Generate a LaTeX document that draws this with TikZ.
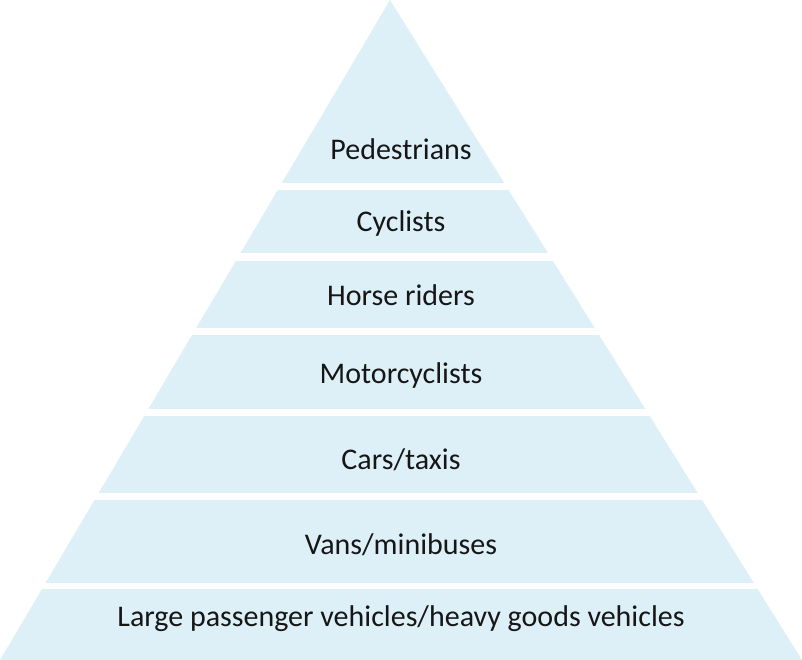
\documentclass[tikz,border=0pt]{standalone}
\usepackage{fontspec}
\setmainfont{Carlito}
\definecolor{bandblue}{HTML}{DDF0F8}
\definecolor{txt}{HTML}{161616}
\begin{document}
\begin{tikzpicture}[x=1pt,y=-1pt,
  lbl/.style={text=txt,font=\fontsize{30}{34}\selectfont,inner sep=0pt,anchor=center}]
\useasboundingbox (0,0) rectangle (802,660);
\begin{scope}
\clip (390,0) -- (802,660) -- (0,660) -- cycle;
\fill[bandblue] (0,0) rectangle (802,183);
\fill[bandblue] (0,190) rectangle (802,253);
\fill[bandblue] (0,261) rectangle (802,328);
\fill[bandblue] (0,335) rectangle (802,409);
\fill[bandblue] (0,416) rectangle (802,493);
\fill[bandblue] (0,500) rectangle (802,583);
\fill[bandblue] (0,589) rectangle (802,660);
\end{scope}
\node[lbl] (ped) at (401,149) {Pedestrians};
\node[lbl] (cyc) at (401,224) {Cyclists};
\node[lbl] (hor) at (401,295) {Horse riders};
\node[lbl] (mot) at (401,375) {Motorcyclists};
\node[lbl] (car) at (401,460) {Cars/taxis};
\node[lbl] (van) at (401,545) {Vans/minibuses};
\node[lbl] (lpv) at (401,619) {Large passenger vehicles/heavy goods vehicles};
\end{tikzpicture}
\end{document}
